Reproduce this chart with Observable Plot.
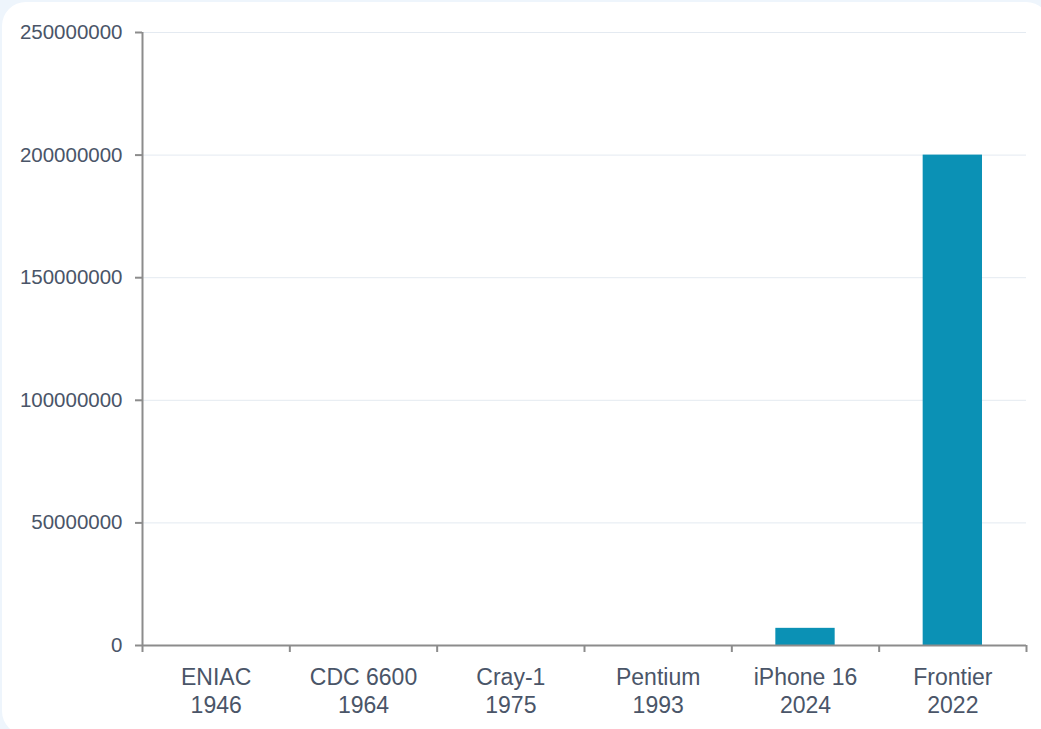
<!DOCTYPE html>
<html>
<head>
<meta charset="utf-8">
<script src="https://cdn.jsdelivr.net/npm/d3@7"></script>
<script src="https://cdn.jsdelivr.net/npm/@observablehq/plot@0.6"></script>
<style>
  html, body { margin: 0; padding: 0; width: 1041px; height: 729px; overflow: hidden; background: #eef5fc; }
  #panel { position: absolute; left: 2px; top: 2px; width: 1048px; height: 733px; background: #ffffff; border-radius: 24px; }
  #chart { position: absolute; left: 0; top: 0; }
  svg { font-family: "Liberation Sans", Arial, sans-serif; }
</style>
</head>
<body>
<div id="panel"></div>
<div id="chart"></div>
<script>
const names = ["ENIAC", "CDC 6600", "Cray-1", "Pentium", "iPhone 16", "Frontier"];
const years = ["1946", "1964", "1975", "1993", "2024", "2022"];
const values = [0.005, 3, 160, 300, 7000000, 200000000];
const yTicks = [0, 50000000, 100000000, 150000000, 200000000, 250000000];

const data = names.map((n, i) => ({i, name: n, year: years[i], value: values[i]}));
const boundaries = d3.range(names.length + 1);

const textColor = "#4a5568";
const axisColor = "#8c8c8c";

const chart = Plot.plot({
  width: 1041,
  height: 729,
  marginTop: 32,
  marginBottom: 84,
  marginLeft: 142,
  marginRight: 15,
  style: {background: "transparent", color: textColor, fontFamily: "Liberation Sans, Arial, sans-serif"},
  x: {type: "linear", domain: [0, names.length], axis: null},
  y: {domain: [0, 250000000], axis: null},
  marks: [
    Plot.gridY(yTicks, {stroke: "#e4eaf1", strokeOpacity: 1, strokeWidth: 1}),
    Plot.rectY(data, {x1: "i", x2: d => d.i + 1, y: "value", fill: "#0b91b5", insetLeft: 44, insetRight: 44}),
    Plot.axisY(yTicks, {tickSize: 7, tickPadding: 13, tickFormat: d => String(d), fontSize: 20.5, stroke: axisColor, strokeWidth: 2, fill: textColor, label: null}),
    Plot.axisX(boundaries, {tickSize: 7, tickFormat: () => "", stroke: axisColor, strokeWidth: 2, label: null}),
    Plot.ruleX([0], {stroke: axisColor, strokeWidth: 2}),
    Plot.ruleY([0], {stroke: axisColor, strokeWidth: 2}),
    Plot.text(data, {x: d => d.i + 0.5, y: 0, text: d => d.name + "\n" + d.year, lineAnchor: "top", dy: 20, fontSize: 23, fill: textColor, lineHeight: 1.2})
  ]
});
document.getElementById("chart").appendChild(chart);
</script>
</body>
</html>
